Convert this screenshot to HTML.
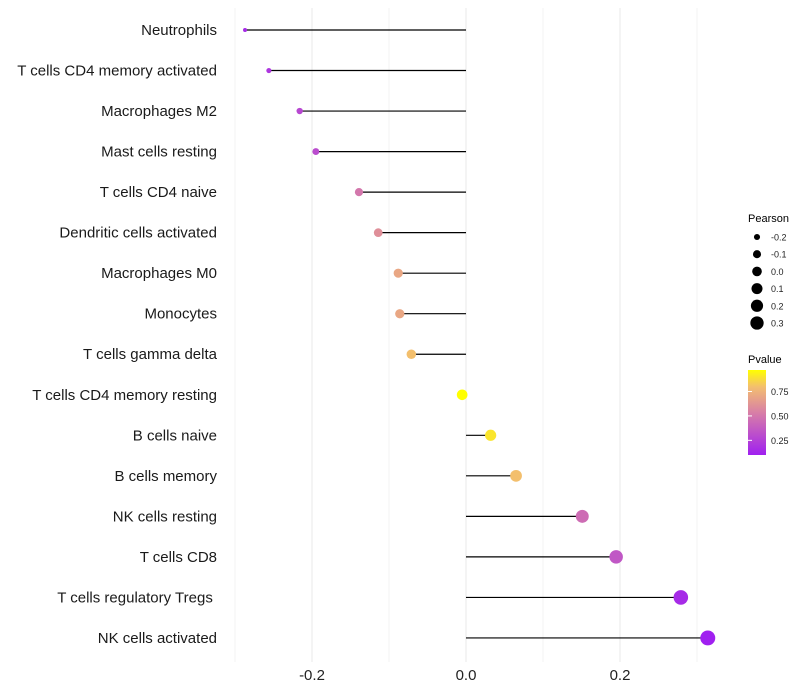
<!DOCTYPE html>
<html><head><meta charset="utf-8"><style>
body{margin:0;background:#fff;}
svg{display:block;font-family:"Liberation Sans",Arial,sans-serif;}
</style></head><body>
<svg id="chart" width="800" height="700">
<defs><linearGradient id="pg" x1="0" y1="1" x2="0" y2="0">
<stop offset="0" stop-color="#A020F0"/><stop offset="0.5" stop-color="#D87FA6"/><stop offset="0.8" stop-color="#F3BE70"/><stop offset="1" stop-color="#FFFF00"/></linearGradient></defs>
<g id="grid"></g><g id="marks"></g><g id="labels"></g>
<g id="legend">
<text x="748" y="222" font-size="11">Pearson</text>
<g id="sizeleg"></g>
<text x="748" y="363" font-size="11">Pvalue</text>
<rect x="748" y="370" width="18" height="85" fill="url(#pg)"/>
<g id="cbticks"></g>
</g>
</svg>
<script>
const categories=["Neutrophils","T cells CD4 memory activated","Macrophages M2","Mast cells resting","T cells CD4 naive","Dendritic cells activated","Macrophages M0","Monocytes","T cells gamma delta","T cells CD4 memory resting","B cells naive","B cells memory","NK cells resting","T cells CD8","T cells regulatory  Tregs\u00a0","NK cells activated"];
const pearson=[-0.287,-0.256,-0.216,-0.195,-0.139,-0.114,-0.088,-0.086,-0.071,-0.005,0.032,0.065,0.151,0.195,0.279,0.314];
const pvalue=[0.15,0.2,0.28,0.3,0.5,0.6,0.7,0.7,0.8,0.97,0.9,0.8,0.45,0.35,0.15,0.1];
const xTicks=[-0.2,0.0,0.2];
const xTickLabels=["-0.2","0.0","0.2"];
const sizeLegendVals=[-0.2,-0.1,0.0,0.1,0.2,0.3];
const cbTicks=[0.25,0.5,0.75];
const NS="http://www.w3.org/2000/svg";
const x=v=>466+v*770;
const y=i=>30+i*40.53;
const r=v=>Math.sqrt(Math.max(1,4+(v+0.287)/0.601*52));
const pY=p=>455-(p-0.1)/(0.97-0.1)*85;
function mix(a,b,t){return a.map((c,i)=>Math.round(c+(b[i]-c)*t));}
const stops=[[0,[160,32,240]],[0.5,[216,127,166]],[0.8,[243,190,112]],[1,[255,255,0]]];
function col(p){let t=Math.max(0,Math.min(1,(p-0.1)/0.87));for(let i=1;i<stops.length;i++){if(t<=stops[i][0]){const s=stops[i-1],e=stops[i];const c=mix(s[1],e[1],(t-s[0])/(e[0]-s[0]));return `rgb(${c})`;}}return "rgb(255,255,0)";}
function el(tag,attrs,parent){const e=document.createElementNS(NS,tag);for(const k in attrs)e.setAttribute(k,attrs[k]);parent.appendChild(e);return e;}
const grid=document.getElementById('grid'),marks=document.getElementById('marks'),labels=document.getElementById('labels');
[-0.3,-0.2,-0.1,0,0.1,0.2,0.3].forEach(v=>{const g=el('line',{x1:x(v),x2:x(v),y1:8,y2:662,stroke:'#ebebeb','stroke-width':Math.round(v*10)%2===0?1.1:0.6},grid);

});
xTicks.forEach((v,i)=>{const t=el('text',{x:x(v),y:680,'font-size':15,'text-anchor':'middle',fill:'#222'},labels);t.textContent=xTickLabels[i];

});
categories.forEach((c,i)=>{
const t=el('text',{x:217,y:y(i)+5,'font-size':15,'text-anchor':'end',fill:'#1a1a1a'},labels);t.textContent=c;


const l=el('line',{x1:x(0),x2:x(pearson[i]),y1:y(i),y2:y(i),stroke:'#000','stroke-width':1.2},marks);


const d=el('circle',{cx:x(pearson[i]),cy:y(i),r:r(pearson[i]),fill:col(pvalue[i])},marks);


});
const sl=document.getElementById('sizeleg');
sizeLegendVals.forEach((v,i)=>{const cy=237+i*17.2;
const c=el('circle',{cx:757,cy:cy,r:r(v)*0.9,fill:'#000'},sl);


const t=el('text',{x:771,y:cy+3.5,'font-size':9,fill:'#222'},sl);t.textContent=v.toFixed(1);

});
const cb=document.getElementById('cbticks');
cbTicks.forEach(p=>{const yy=pY(p);
const k=el('line',{x1:748,x2:752,y1:yy,y2:yy,stroke:'#fff'},cb);


const t=el('text',{x:771,y:yy+3.5,'font-size':9,fill:'#222'},cb);t.textContent=p.toFixed(2);

});
</script>
</body></html>
